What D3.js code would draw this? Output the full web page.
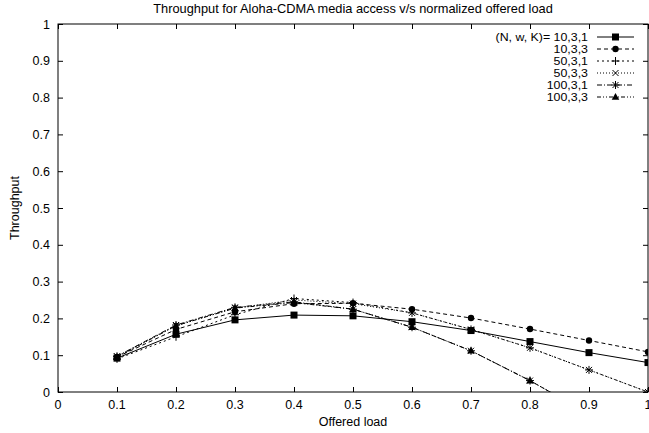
<!DOCTYPE html>
<html>
<head>
<meta charset="utf-8">
<script src="https://cdn.jsdelivr.net/npm/d3@7"></script>
<style>
  body { margin: 0; background: #fff; }
  text { font-family: "Liberation Sans", Arial, sans-serif; fill: #000; }
</style>
</head>
<body>
<div id="chart"></div>
<script>
const margin = {top: 24, right: 1, bottom: 41, left: 58}
const width = 649 - margin.left - margin.right
const height = 433 - margin.top - margin.bottom

// offered load values
const loads = [0.1, 0.2, 0.3, 0.4, 0.5, 0.6, 0.7, 0.8, 0.9, 1.0]
const labels = ["10,3,1", "10,3,3", "50,3,1", "50,3,3", "100,3,1", "100,3,3"]
const s10_3_1 = [0.092, 0.157, 0.196, 0.209, 0.207, 0.191, 0.167, 0.137, 0.107, 0.080]
const s10_3_3 = [0.095, 0.170, 0.218, 0.240, 0.241, 0.225, 0.201, 0.171, 0.140, 0.109]
const s50_3_1 = [0.090, 0.150, 0.210, 0.254, 0.243, 0.215, 0.170, 0.120, 0.060, 0.000]
const s50_3_3 = [0.097, 0.180, 0.228, 0.250, 0.240, 0.215, 0.170, 0.120, 0.060, 0.000]
const s100_3_1 = [0.097, 0.182, 0.230, 0.245, 0.225, 0.176, 0.112, 0.031, -0.060, -0.150]
const s100_3_3 = [0.095, 0.180, 0.228, 0.243, 0.225, 0.176, 0.112, 0.031, -0.060, -0.150]
const xTicks = [0, 0.1, 0.2, 0.3, 0.4, 0.5, 0.6, 0.7, 0.8, 0.9, 1]
const yTicks = [0, 0.1, 0.2, 0.3, 0.4, 0.5, 0.6, 0.7, 0.8, 0.9, 1]

const seriesValues = [s10_3_1, s10_3_3, s50_3_1, s50_3_3, s100_3_1, s100_3_3]
const dashes = ["none", "4,3", "2,3", "1,2", "5,2,1,2", "4,2,1,2,1,2"]
const markers = ["square", "circle", "plus", "cross", "star", "triangle"]

const fs = "12.5px"

var x = d3.scaleLinear().domain([0, 1]).range([0, width])
var y = d3.scaleLinear().domain([0, 1]).range([height, 0])

var svg = d3.select("#chart")
  .append("svg")
  .attr("width", 649)
  .attr("height", 433)

svg.append("text")
  .attr("x", margin.left + width / 2)
  .attr("y", 13)
  .attr("text-anchor", "middle")
  .style("font-size", "12.8px")
  .text("Throughput for Aloha-CDMA media access v/s normalized offered load")

var g = svg.append("g")
  .attr("transform", "translate(" + margin.left + "," + margin.top + ")")

g.append("defs").append("clipPath").attr("id", "clip")
  .append("rect").attr("width", width).attr("height", height)

// inward ticks on all four sides (gnuplot mirror)
const tk = 5
g.append("g").attr("transform", "translate(0," + height + ")")
  .call(d3.axisBottom(x).tickValues(xTicks).tickSize(-tk).tickFormat(""))
g.append("g")
  .call(d3.axisTop(x).tickValues(xTicks).tickSize(-tk).tickFormat(""))
g.append("g")
  .call(d3.axisLeft(y).tickValues(yTicks).tickSize(-tk).tickFormat(""))
g.append("g").attr("transform", "translate(" + width + ",0)")
  .call(d3.axisRight(y).tickValues(yTicks).tickSize(-tk).tickFormat(""))

g.selectAll(".domain").remove()
g.selectAll(".tick line").attr("stroke", "#000")

// tick labels
g.selectAll(".xlab").data(xTicks).enter().append("text")
  .attr("class", "xlab")
  .attr("x", d => x(d))
  .attr("y", height + 17)
  .attr("text-anchor", "middle")
  .style("font-size", fs)
  .text(d => d3.format("")(d))
g.selectAll(".ylab").data(yTicks).enter().append("text")
  .attr("class", "ylab")
  .attr("x", -8)
  .attr("y", d => y(d) + 4.5)
  .attr("text-anchor", "end")
  .style("font-size", fs)
  .text(d => d3.format("")(d))

g.append("rect")
  .attr("width", width).attr("height", height)
  .attr("fill", "none").attr("stroke", "#000").attr("stroke-width", 1)

svg.append("text")
  .attr("x", margin.left + width / 2)
  .attr("y", 426)
  .attr("text-anchor", "middle")
  .style("font-size", fs)
  .text("Offered load")

svg.append("text")
  .attr("transform", "translate(19," + (margin.top + height / 2) + ") rotate(-90)")
  .attr("text-anchor", "middle")
  .style("font-size", fs)
  .text("Throughput")

function drawMarker(sel, type, cx, cy) {
  if (type == "square") {
    sel.append("rect").attr("x", cx - 3.5).attr("y", cy - 3.5).attr("width", 7).attr("height", 7).attr("fill", "#000")
  } else if (type == "circle") {
    sel.append("circle").attr("cx", cx).attr("cy", cy).attr("r", 3.2).attr("fill", "#000")
  } else if (type == "triangle") {
    sel.append("path").attr("d", "M" + cx + "," + (cy - 4) + "L" + (cx + 3.8) + "," + (cy + 2.8) + "L" + (cx - 3.8) + "," + (cy + 2.8) + "Z").attr("fill", "#000")
  } else {
    var p = ""
    if (type == "plus" || type == "star") p += "M" + (cx - 4) + "," + cy + "h8M" + cx + "," + (cy - 4) + "v8"
    if (type == "cross" || type == "star") p += "M" + (cx - 3) + "," + (cy - 3) + "l6,6M" + (cx - 3) + "," + (cy + 3) + "l6,-6"
    sel.append("path").attr("d", p).attr("stroke", "#000").attr("stroke-width", 1).attr("fill", "none")
  }
}

var plot = g.append("g").attr("clip-path", "url(#clip)")
var line = d3.line().x(d => x(d[0])).y(d => y(d[1]))

seriesValues.forEach(function(vals, i) {
  var pts = loads.map((l, j) => [l, vals[j]])
  plot.append("path")
    .datum(pts)
    .attr("fill", "none")
    .attr("stroke", "#000")
    .attr("stroke-width", 1)
    .attr("stroke-dasharray", dashes[i])
    .attr("d", line)
  pts.forEach(function(p) {
    if (p[1] >= 0) drawMarker(plot, markers[i], x(p[0]), y(p[1]))
  })
})

// legend (slightly condensed vertically so the tight rows don't collide)
var leg = svg.append("g")
labels.forEach(function(lab, i) {
  var ly = 37 + i * 12
  leg.append("text")
    .attr("transform", "translate(588," + (ly + 4) + ") scale(1.19,1)")
    .attr("text-anchor", "end")
    .style("font-size", "10.4px")
    .text(i == 0 ? "(N, w, K)= " + lab : lab)
  leg.append("line")
    .attr("x1", 597).attr("x2", 634).attr("y1", ly).attr("y2", ly)
    .attr("stroke", "#000").attr("stroke-width", 1)
    .attr("stroke-dasharray", dashes[i])
  drawMarker(leg, markers[i], 615.5, ly)
})
</script>
</body>
</html>
